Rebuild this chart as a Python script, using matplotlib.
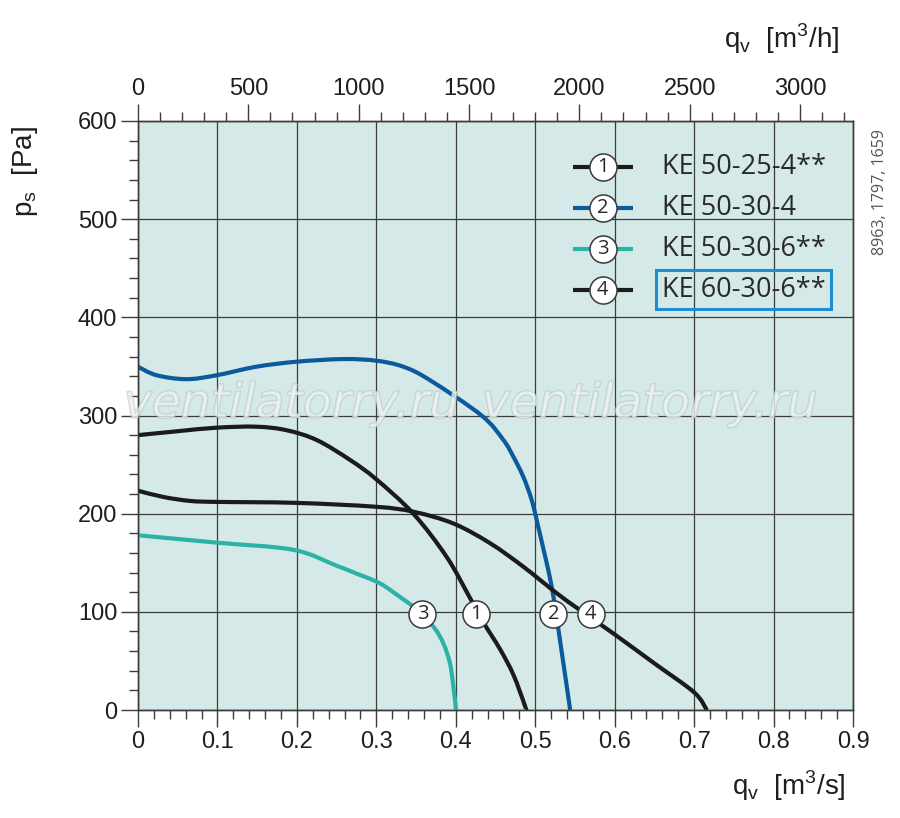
import matplotlib
matplotlib.use("Agg")
import matplotlib.pyplot as plt
import matplotlib.patheffects as pe
from matplotlib.path import Path
from matplotlib.patches import PathPatch
import numpy as np

# ---------------- data ----------------
q1 = [0.0, 0.05, 0.099, 0.149, 0.187, 0.225, 0.267, 0.30, 0.3466, 0.3885, 0.418, 0.4346, 0.4557, 0.4725, 0.4872, 0.488]
p1 = [280, 284, 287.6, 288.6, 285, 275, 254.7, 235, 200, 156, 114, 89.5, 62, 36, 4, 0]

q2 = [0.0, 0.0235, 0.061, 0.099, 0.149, 0.1997, 0.2585, 0.30, 0.334, 0.3675, 0.4325, 0.460, 0.4725,
      0.485, 0.4955, 0.5037, 0.5207, 0.533, 0.544]
p2 = [349.7, 341, 337, 341, 349.7, 354.8, 357.5, 355.8, 349.7, 336, 300, 275, 258,
      237.6, 214, 187, 125.6, 61, 0]

q3 = [0.0, 0.099, 0.1955, 0.25, 0.275, 0.3046, 0.33, 0.3466, 0.3717, 0.3843, 0.3927, 0.397, 0.4003]
p3 = [178, 170.5, 163.2, 147, 139, 129, 115, 105, 85, 68, 47.5, 23.8, 0]

q4 = [0.0, 0.032, 0.0655, 0.099, 0.2, 0.3, 0.3466, 0.397, 0.443, 0.485, 0.527, 0.556, 0.60,
      0.65, 0.70, 0.716]
p4 = [223.4, 217, 213, 212, 211, 207, 202, 190, 170, 146, 119, 102, 77, 47.5, 18, 0]

curve_ids = ["1", "2", "3", "4"]
legend_names = ["KE 50-25-4**", "KE 50-30-4", "KE 50-30-6**", "KE 60-30-6**"]
label_q = [0.4255, 0.523, 0.358, 0.570]
label_p = [98, 98, 98, 98]

x_ticks = [0, 0.1, 0.2, 0.3, 0.4, 0.5, 0.6, 0.7, 0.8, 0.9]
y_ticks = [0, 100, 200, 300, 400, 500, 600]
top_ticks = [0, 500, 1000, 1500, 2000, 2500, 3000]

# ---------------- style ----------------
BG = "#d5eae8"
GRID = "#3c3c3c"
TXT = "#1e1e1e"
colors = ["#1b1b1b", "#0b5a9c", "#2bb3a6", "#1b1b1b"]
BOX = "#1a8fd8"
TICKFONT = "Liberation Sans"
SANS2 = "Open Sans"

plt.rcParams["font.family"] = [TICKFONT, "DejaVu Sans"]
plt.rcParams["mathtext.fontset"] = "custom"
plt.rcParams["mathtext.rm"] = TICKFONT

fig = plt.figure(figsize=(9, 8.18), dpi=100)
ax = fig.add_axes([0.1533, 0.1320, 0.7945, 0.7201])
ax.set_facecolor(BG)
ax.set_xlim(0, 0.9)
ax.set_ylim(0, 600)

ax.set_xticks(x_ticks)
ax.set_xticklabels(["0" if v == 0 else f"{v:.1f}" for v in x_ticks])
ax.set_xticks(np.arange(0, 0.9001, 0.02), minor=True)
ax.set_yticks(y_ticks)
ax.set_yticklabels([str(v) for v in y_ticks])
ax.set_yticks(np.arange(0, 601, 20), minor=True)

ax.grid(True, which="major", color=GRID, lw=0.9)
ax.set_axisbelow(True)
for s in ax.spines.values():
    s.set_color(GRID)
    s.set_linewidth(1.0)

ax.tick_params(which="major", direction="out", length=12, width=1.0, color=GRID,
               labelsize=17, labelcolor=TXT, pad=3)
ax.tick_params(which="minor", direction="out", length=6.5, width=1.0, color=GRID)

# top axis in m3/h
ax2 = ax.twiny()
ax2.set_xlim(0, 0.9 * 3600)
ax2.set_xticks(top_ticks)
ax2.set_xticklabels([str(v) for v in top_ticks])
ax2.set_xticks(np.arange(0, 3201, 100), minor=True)
ax2.tick_params(which="major", direction="out", length=12, width=1.0, color=GRID,
                labelsize=17, labelcolor=TXT, pad=3)
ax2.tick_params(which="minor", direction="out", length=6.5, width=1.0, color=GRID)
for s in ax2.spines.values():
    s.set_color(GRID)
    s.set_linewidth(1.0)


def smooth_path(q, p, sx=0.9, sy=600.0, tension=1.0 / 6.0):
    """Catmull-Rom curve through the read points, rendered as cubic Bezier segments."""
    x = np.asarray(q) / sx
    y = np.asarray(p) / sy
    pts = np.column_stack([x, y])
    n = len(pts)
    verts = [pts[0]]
    codes = [Path.MOVETO]
    for i in range(n - 1):
        p0 = pts[i - 1] if i > 0 else pts[i]
        p1_ = pts[i]
        p2_ = pts[i + 1]
        p3_ = pts[i + 2] if i + 2 < n else pts[i + 1]
        c1 = p1_ + (p2_ - p0) * tension
        c2 = p2_ - (p3_ - p1_) * tension
        verts += [c1, c2, p2_]
        codes += [Path.CURVE4] * 3
    verts = np.array(verts)
    verts[:, 0] *= sx
    verts[:, 1] *= sy
    return Path(verts, codes)


# curves
series = [(q1, p1), (q2, p2), (q3, p3), (q4, p4)]
for (q, p), c in zip(series, colors):
    patch = PathPatch(smooth_path(q, p), facecolor="none", edgecolor=c, lw=3.0,
                      capstyle="butt", joinstyle="round", zorder=3)
    ax.add_patch(patch)

# numbered circles on curves
for cid, qx, py in zip(curve_ids, label_q, label_p):
    ax.plot([qx], [py], marker="o", ms=19.5, mfc="white", mec="#3a3a3a", mew=1.1, zorder=5)
    ax.text(qx, py, cid, ha="center", va="center", fontsize=14.5, family=SANS2,
            color="#2a2a2a", zorder=6)

# legend (drawn manually)
leg_p = [553, 511, 470, 428]
for i, (c, cid, name) in enumerate(zip(colors, curve_ids, legend_names)):
    yy = leg_p[i]
    ax.plot([0.5477, 0.623], [yy, yy], color=c, lw=3.0, solid_capstyle="butt", zorder=4)
    ax.plot([0.585], [yy], marker="o", ms=19.5, mfc="white", mec="#3a3a3a", mew=1.1, zorder=5)
    ax.text(0.585, yy, cid, ha="center", va="center", fontsize=14.5, family=SANS2,
            color="#2a2a2a", zorder=6)
    t = ax.text(0.659, yy, name, ha="left", va="center", fontsize=19.5, family=SANS2,
                color="#2a2a2a", zorder=6)
    if i == 3:
        t.set_bbox(dict(boxstyle="square,pad=0.2", facecolor="none", edgecolor=BOX, lw=2.2))

# axis labels
fig.text(0.028, 0.790, r"p$_\mathregular{s}$  [Pa]", rotation=90, ha="center", va="center",
         fontsize=20, color=TXT)
fig.text(0.940, 0.040, r"q$_\mathregular{v}$  [m$^\mathregular{3}$/s]", ha="right", va="center",
         fontsize=20, color=TXT)
fig.text(0.932, 0.953, r"q$_\mathregular{v}$  [m$^\mathregular{3}$/h]", ha="right", va="center",
         fontsize=20, color=TXT)

# reference code at right
fig.text(0.978, 0.765, "8963, 1797, 1659", rotation=90, ha="center", va="center",
         fontsize=11.5, family=SANS2, color="#555555")

# watermark
for xw in (0.324, 0.722):
    fig.text(xw, 0.505, "ventilatorry.ru", ha="center", va="center", fontsize=34,
             family="DejaVu Sans", style="italic", color="#eef5f4", alpha=0.55, zorder=10,
             path_effects=[pe.withStroke(linewidth=1.5, foreground="#b5c0bf")])

fig.savefig("out.png", dpi=100, facecolor="white")
